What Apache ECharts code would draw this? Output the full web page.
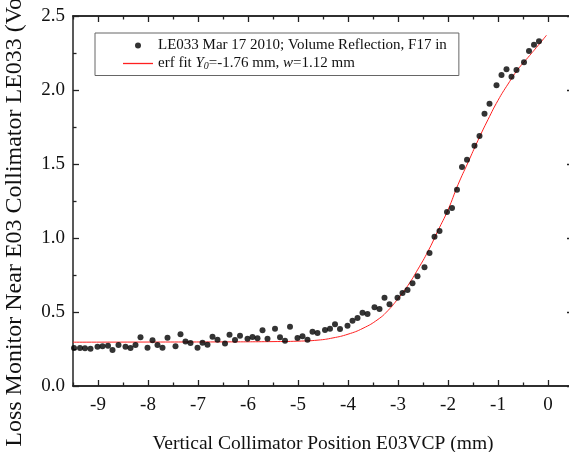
<!DOCTYPE html>
<html>
<head>
<meta charset="utf-8">
<script src="https://cdn.jsdelivr.net/npm/echarts@6/dist/echarts.min.js"></script>
<style>
html,body{margin:0;padding:0;background:#fff;}
#chart{width:569px;height:452px;}
</style>
</head>
<body>
<div id="chart"></div>
<script>
// Measured scan (black dots)
var scanX = [-9.48,-9.36,-9.26,-9.15,-9.01,-8.91,-8.80,-8.71,-8.59,-8.45,-8.35,-8.25,-8.15,-8.01,-7.91,-7.81,-7.71,-7.61,-7.45,-7.35,-7.25,-7.15,-7.01,-6.91,-6.81,-6.71,-6.61,-6.46,-6.37,
  -6.26,-6.16,-6.01,-5.91,-5.81,-5.71,-5.61,-5.46,-5.36,-5.26,-5.16,-5.01,-4.91,-4.81,-4.71,-4.61,-4.46,-4.36,-4.26,-4.16,-4.01,-3.91,-3.81,-3.71,-3.61,-3.47,-3.37,
  -3.27,-3.17,-3.01,-2.91,-2.81,-2.71,-2.61,-2.47,-2.37,-2.27,-2.17,-2.02,-1.92,-1.82,
  -1.72,-1.62,-1.47,-1.37,-1.27,-1.17,-1.03,-0.93,-0.83,-0.73,-0.63,-0.48,-0.38,-0.28,-0.18];
var scanY = [0.257,0.257,0.255,0.252,0.266,0.268,0.272,0.243,0.277,0.266,0.257,0.277,0.329,0.259,0.309,0.277,0.259,0.326,0.268,0.349,0.300,0.290,0.259,0.293,0.279,0.333,0.313,0.288,0.347,
  0.311,0.340,0.320,0.331,0.322,0.376,0.320,0.387,0.329,0.306,0.401,0.324,0.336,0.313,0.367,0.358,0.378,0.387,0.417,0.385,0.407,0.441,0.459,0.495,0.486,0.532,0.520,
  0.597,0.552,0.597,0.628,0.649,0.694,0.741,0.802,0.899,1.009,1.047,1.176,1.203,1.326,
  1.480,1.529,1.624,1.689,1.840,1.907,2.032,2.101,2.140,2.090,2.135,2.187,2.264,2.306,2.330];

// erf fit curve (red line)
var fitX = [-9.5,-8,-6.5,-5.5,-5,-4.6,-4.3,-4,-3.7,-3.4,-3.2,-3,-2.8,-2.6,-2.4,-2.2,-2,-1.8,-1.6,-1.4,-1.2,-1,-0.8,-0.6,-0.4,-0.2,-0.03];
var fitY = [0.296,0.297,0.298,0.300,0.303,0.31,0.325,0.35,0.39,0.45,0.51,0.59,0.68,0.79,0.91,1.05,1.19,1.36,1.51,1.66,1.80,1.93,2.04,2.14,2.22,2.30,2.37];

var xTicks = [-9,-8,-7,-6,-5,-4,-3,-2,-1,0];
var xMinorTicks = [-9.5,-8.5,-7.5,-6.5,-5.5,-4.5,-3.5,-2.5,-1.5,-0.5,0.5];
var yTicks = [0, 0.5, 1.0, 1.5, 2.0, 2.5];

var scanName = 'LE033 Mar 17 2010; Volume Reflection, F17 in';
var fitName = 'erf fit';

var scanData = scanX.map(function(x,i){return [x, scanY[i]];});
var fitData = fitX.map(function(x,i){return [x, fitY[i]];});

var FONT = 'Liberation Serif';
var AX = '#222';

function xAxisBase(pos, labels, ticks, len){
  return {
    type:'value', position:pos, min:-9.5, max:0.5,
    axisLine:{show:true, onZero:false, lineStyle:{color:AX, width:1.5}},
    axisTick:{show:true, inside:true, length:len, customValues:ticks, lineStyle:{color:AX, width:1.3}},
    axisLabel:{show:labels, customValues:xTicks, color:'#111', fontFamily:FONT, fontSize:19, margin:10,
      formatter:function(v){return String(v);}},
    splitLine:{show:false}
  };
}
function yAxisBase(pos, labels){
  return {
    type:'value', position:pos, min:0, max:2.5, interval:0.5,
    axisLine:{show:true, onZero:false, lineStyle:{color:AX, width:1.5}},
    axisTick:{show:true, inside:true, length:6, lineStyle:{color:AX, width:1.3}},
    minorTick:{show:true, splitNumber:2, length:3.5, lineStyle:{color:AX, width:1.3}},
    axisLabel:{show:labels, color:'#111', fontFamily:FONT, fontSize:19, margin:8,
      formatter:function(v){return v.toFixed(1);}},
    splitLine:{show:false}
  };
}

var xMain = xAxisBase('bottom', true, xTicks, 6);
xMain.name = 'Vertical Collimator Position E03VCP (mm)';
xMain.nameLocation = 'middle';
xMain.nameGap = 48;
xMain.nameTextStyle = {fontFamily:FONT, fontSize:19.5, color:'#111'};
var yMain = yAxisBase('left', true);
yMain.name = 'Loss Monitor Near E03 Collimator LE033 (Volts)';
yMain.nameLocation = 'middle';
yMain.nameGap = 46;
yMain.nameTextStyle = {fontFamily:FONT, fontSize:24, color:'#111', padding:[0,12,0,0]};

var chart = echarts.init(document.getElementById('chart'));
chart.setOption({
  animation:false,
  backgroundColor:'#fff',
  grid:{left:73, top:16, right:-4, bottom:66, containLabel:false, outerBoundsMode:'none'},
  legend:{
    orient:'vertical', left:95, top:33,
    borderColor:'#666', borderWidth:1, borderRadius:0,
    padding:[5,12,4,28], itemWidth:30, itemHeight:6, itemGap:3,
    textStyle:{fontFamily:FONT, fontSize:15, color:'#111',
      rich:{
        i:{fontFamily:FONT, fontSize:15, fontStyle:'italic', color:'#111'},
        s:{fontFamily:FONT, fontSize:10, fontStyle:'italic', color:'#111', padding:[6,0,0,0]}
      }},
    formatter:function(n){
      if(n===fitName) return 'erf fit {i|Y}{s|0}=-1.76 mm, {i|w}=1.12 mm';
      return n;
    },
    data:[
      {name:scanName, icon:'circle', itemStyle:{color:'#000'}},
      {name:fitName, icon:'path://M0,0H30V1.3H0Z', itemStyle:{color:'#ff2020'}}
    ]
  },
  xAxis:[
    xMain,
    xAxisBase('bottom', false, xMinorTicks, 3.5),
    xAxisBase('top', false, xTicks, 6),
    xAxisBase('top', false, xMinorTicks, 3.5)
  ],
  yAxis:[yMain, yAxisBase('right', false)],
  series:[
    {name:fitName, type:'line', xAxisIndex:0, yAxisIndex:0, data:fitData, smooth:true, symbol:'none',
      lineStyle:{color:'#ff2020', width:1}, itemStyle:{color:'#ff2020'}, z:2},
    {name:scanName, type:'scatter', xAxisIndex:0, yAxisIndex:0, data:scanData, symbol:'circle', symbolSize:6,
      itemStyle:{color:'#000'}, z:3}
  ]
});
</script>
</body>
</html>
